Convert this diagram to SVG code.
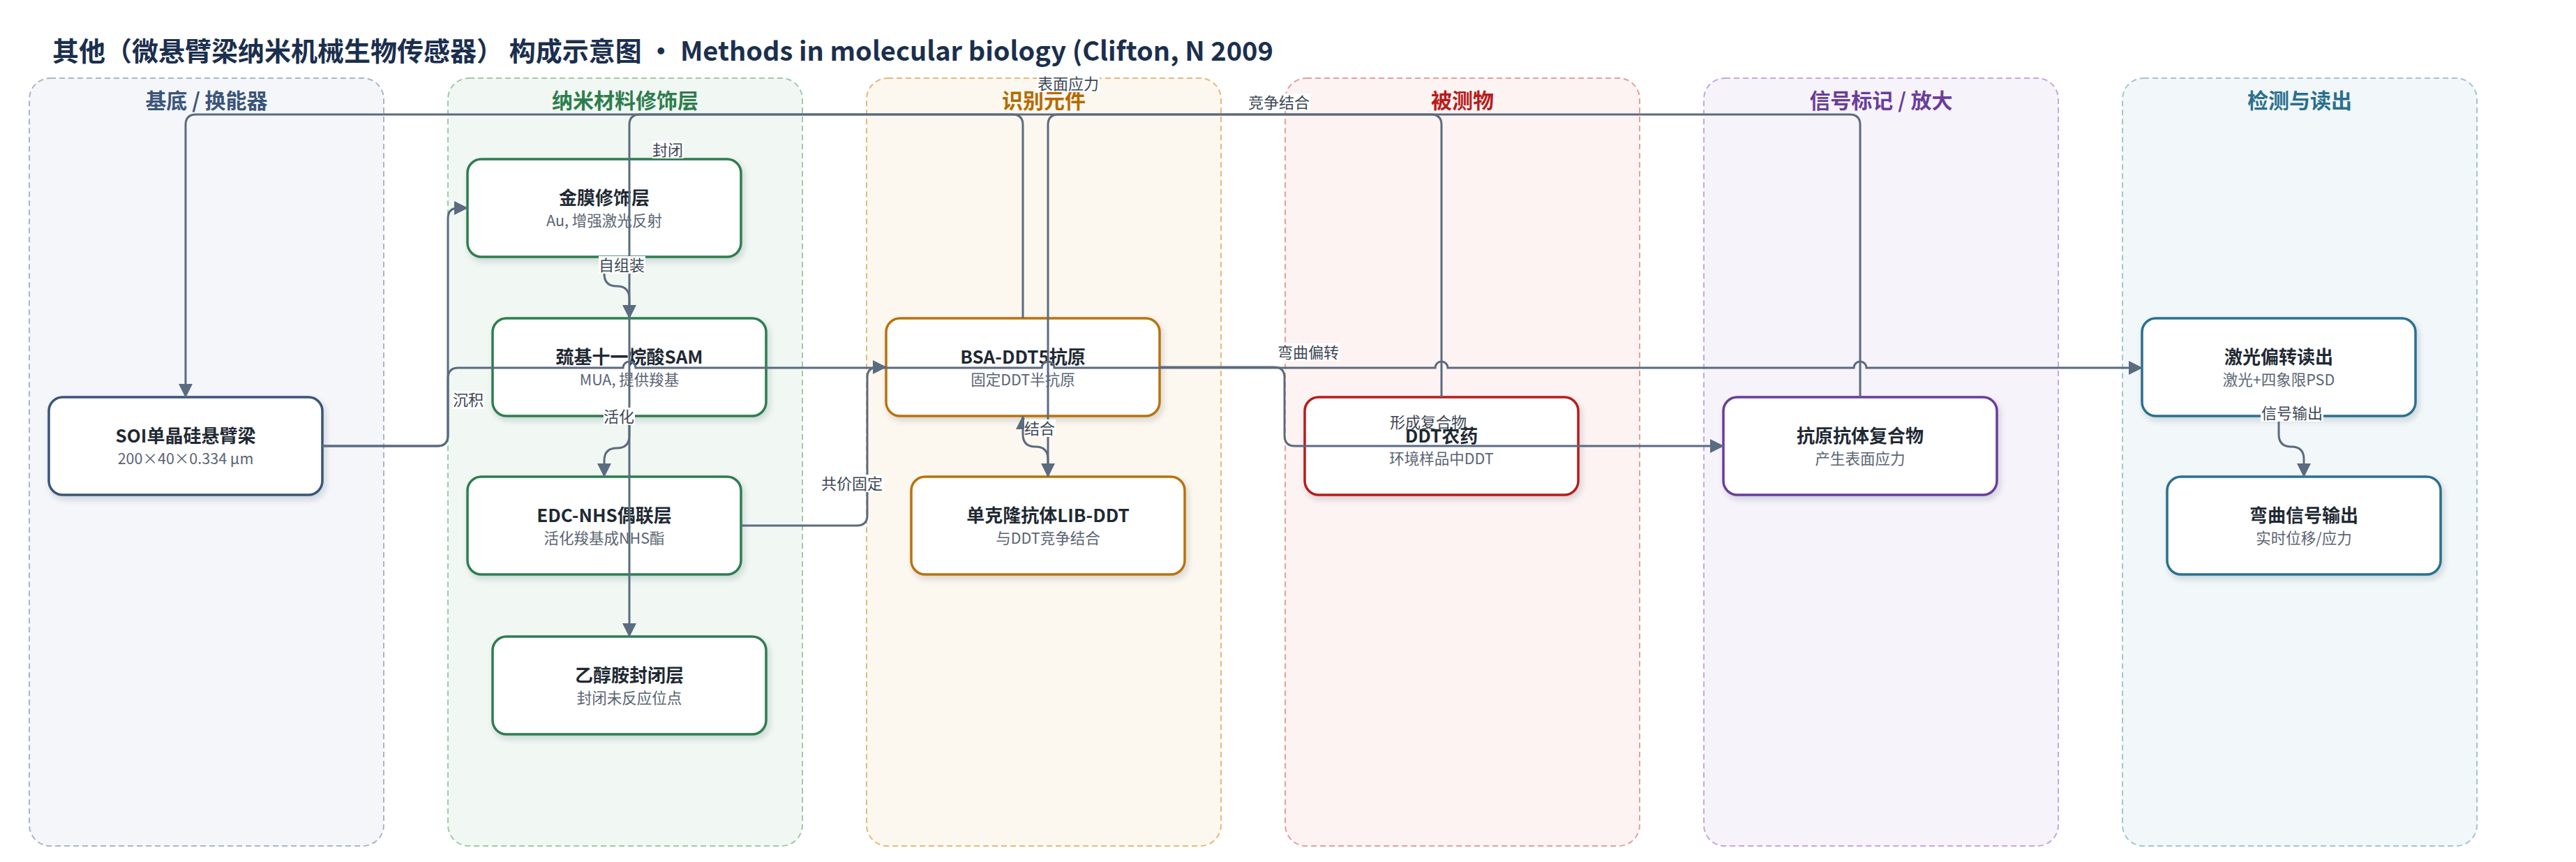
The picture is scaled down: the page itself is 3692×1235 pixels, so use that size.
<svg xmlns="http://www.w3.org/2000/svg" width="3692" height="1235" viewBox="0 0 3692 1235">
<defs>
<filter id="sh" x="-10%" y="-10%" width="130%" height="140%">
<feDropShadow dx="3" dy="5" stdDeviation="4" flood-color="#1b2a3a" flood-opacity="0.16"/>
</filter>
<marker id="arr" markerUnits="userSpaceOnUse" markerWidth="20" markerHeight="20" viewBox="0 0 20 20" refX="19" refY="10" orient="auto">
<path d="M0,0 L20,10 L0,20 z" fill="#5b6b80"/>
</marker>
</defs>
<style>
text{font-family:"Noto Sans CJK SC","Noto Sans",sans-serif}
.lane{stroke-width:2;stroke-dasharray:8 5}
.lt{font-size:30px;font-weight:700;text-anchor:middle}
.node{fill:#fff;stroke-width:3.5;filter:url(#sh)}
.nt{font-size:26px;font-weight:700;fill:#1f2933;text-anchor:middle}
.ns{font-size:21.5px;fill:#5a6472;text-anchor:middle}
.e{fill:none;stroke:#5b6b80;stroke-width:3}
.lb{font-size:22px;fill:#3d4654;text-anchor:middle}
.lbg{fill:#fff}
</style>
<rect width="3692" height="1235" fill="#ffffff"/>
<g id="lanes">
<rect class="lane" x="42" y="112" width="508" height="1100" rx="30" fill="#f4f6fa" stroke="#a9b6c8"/>
<rect class="lane" x="642" y="112" width="508" height="1100" rx="30" fill="#f1f8f3" stroke="#9fcaa9"/>
<rect class="lane" x="1242" y="112" width="508" height="1100" rx="30" fill="#fdf8ef" stroke="#e3b97a"/>
<rect class="lane" x="1842" y="112" width="508" height="1100" rx="30" fill="#fdf3f2" stroke="#e3a09c"/>
<rect class="lane" x="2442" y="112" width="508" height="1100" rx="30" fill="#f6f3fb" stroke="#c2a8e0"/>
<rect class="lane" x="3042" y="112" width="508" height="1100" rx="30" fill="#f2f7f9" stroke="#a3c4d2"/>
<text class="lt" x="296" y="155" fill="#3b5578">基底 / 换能器</text>
<text class="lt" x="896" y="155" fill="#2e7d4f">纳米材料修饰层</text>
<text class="lt" x="1496" y="155" fill="#b36b00">识别元件</text>
<text class="lt" x="2096" y="155" fill="#b71c1c">被测物</text>
<text class="lt" x="2696" y="155" fill="#6a3d9a">信号标记 / 放大</text>
<text class="lt" x="3296" y="155" fill="#2a6f8f">检测与读出</text>
</g>
<text x="75" y="87" font-size="38" font-weight="700" fill="#1b2f4e">其他（微悬臂梁纳米机械生物传感器） 构成示意图 · Methods in molecular biology (Clifton, N 2009</text>
<g id="n_soi"><rect class="node" x="70" y="569" width="392" height="140" rx="20" stroke="#3b5578"/><text class="nt" x="266" y="634">SOI单晶硅悬臂梁</text><text class="ns" x="266" y="665">200×40×0.334 µm</text></g>
<g id="n_au"><rect class="node" x="670" y="228" width="392" height="140" rx="20" stroke="#2e7d4f"/><text class="nt" x="866" y="293">金膜修饰层</text><text class="ns" x="866" y="324">Au, 增强激光反射</text></g>
<g id="n_sam"><rect class="node" x="706" y="456" width="392" height="140" rx="20" stroke="#2e7d4f"/><text class="nt" x="902" y="521">巯基十一烷酸SAM</text><text class="ns" x="902" y="552">MUA, 提供羧基</text></g>
<g id="n_edc"><rect class="node" x="670" y="683" width="392" height="140" rx="20" stroke="#2e7d4f"/><text class="nt" x="866" y="748">EDC-NHS偶联层</text><text class="ns" x="866" y="779">活化羧基成NHS酯</text></g>
<g id="n_eth"><rect class="node" x="706" y="912" width="392" height="140" rx="20" stroke="#2e7d4f"/><text class="nt" x="902" y="977">乙醇胺封闭层</text><text class="ns" x="902" y="1008">封闭未反应位点</text></g>
<g id="n_bsa"><rect class="node" x="1270" y="456" width="392" height="140" rx="20" stroke="#b8730a"/><text class="nt" x="1466" y="521">BSA-DDT5抗原</text><text class="ns" x="1466" y="552">固定DDT半抗原</text></g>
<g id="n_mab"><rect class="node" x="1306" y="683" width="392" height="140" rx="20" stroke="#b8730a"/><text class="nt" x="1502" y="748">单克隆抗体LIB-DDT</text><text class="ns" x="1502" y="779">与DDT竞争结合</text></g>
<g id="n_ddt"><rect class="node" x="1870" y="569" width="392" height="140" rx="20" stroke="#b71c1c"/><text class="nt" x="2066" y="634">DDT农药</text><text class="ns" x="2066" y="665">环境样品中DDT</text></g>
<g id="n_cplx"><rect class="node" x="2470" y="569" width="392" height="140" rx="20" stroke="#6a3d9a"/><text class="nt" x="2666" y="634">抗原抗体复合物</text><text class="ns" x="2666" y="665">产生表面应力</text></g>
<g id="n_laser"><rect class="node" x="3070" y="456" width="392" height="140" rx="20" stroke="#2a6f8f"/><text class="nt" x="3266" y="521">激光偏转读出</text><text class="ns" x="3266" y="552">激光+四象限PSD</text></g>
<g id="n_out"><rect class="node" x="3106" y="683" width="392" height="140" rx="20" stroke="#2a6f8f"/><text class="nt" x="3302" y="748">弯曲信号输出</text><text class="ns" x="3302" y="779">实时位移/应力</text></g>
<g id="connectors">
<path class="e" marker-end="url(#arr)" d="M462,639 H627 Q642,639 642,624 V313 Q642,298 657,298 H670"/>
<path class="e" marker-end="url(#arr)" d="M462,639 H627 Q642,639 642,624 V542 Q642,527 657,527 H893 A9,9 0 0 1 911,527 H1493 A9,9 0 0 1 1511,527 H2057 A9,9 0 0 1 2075,527 H2657 A9,9 0 0 1 2675,527 H3070"/>
<path class="e" marker-end="url(#arr)" d="M1062,753 H1228 Q1243,753 1243,738 V541 Q1243,526 1258,526 H1270"/>
<path class="e" marker-end="url(#arr)" d="M1662,526 H1826 Q1841,526 1841,541 V624 Q1841,639 1856,639 H2470"/>
<path class="e" marker-end="url(#arr)" d="M866,368 V392 Q866,410 884,410 Q902,410 902,428 V456"/>
<path class="e" marker-end="url(#arr)" d="M902,596 V624 Q902,642 884,642 Q866,642 866,660 V683"/>
<path class="e" marker-end="url(#arr)" d="M1502,683 V658 Q1502,640 1484,640 Q1466,640 1466,622 V596"/>
<path class="e" marker-end="url(#arr)" d="M2066,569 V179 Q2066,164 2051,164 H1517 Q1502,164 1502,179 V683"/>
<path class="e" marker-end="url(#arr)" d="M2666,569 V179 Q2666,164 2651,164 H281 Q266,164 266,179 V569"/>
<path class="e" marker-end="url(#arr)" d="M1466,456 V179 Q1466,164 1451,164 H917 Q902,164 902,179 V912"/>
<path class="e" marker-end="url(#arr)" d="M3266,596 V622 Q3266,640 3284,640 Q3302,640 3302,658 V683"/>
</g>
<g id="labels">
<rect class="lbg" x="649" y="561" width="45" height="25"/><text class="lb" x="671" y="581">沉积</text>
<rect class="lbg" x="858" y="367" width="67" height="25"/><text class="lb" x="891" y="388">自组装</text>
<rect class="lbg" x="865" y="584" width="45" height="25"/><text class="lb" x="887" y="605">活化</text>
<rect class="lbg" x="1176" y="680" width="90" height="25"/><text class="lb" x="1221" y="701">共价固定</text>
<rect class="lbg" x="1468" y="601" width="45" height="25"/><text class="lb" x="1490" y="622">结合</text>
<rect class="lbg" x="1788" y="134" width="90" height="25"/><text class="lb" x="1833" y="155">竞争结合</text>
<text class="lb" x="2047" y="613">形成复合物</text>
<rect class="lbg" x="1486" y="107" width="90" height="25"/><text class="lb" x="1531" y="128">表面应力</text>
<rect class="lbg" x="1830" y="492" width="90" height="25"/><text class="lb" x="1875" y="513">弯曲偏转</text>
<rect class="lbg" x="3240" y="579" width="90" height="25"/><text class="lb" x="3285" y="600">信号输出</text>
<rect class="lbg" x="935" y="202" width="45" height="25"/><text class="lb" x="957" y="223">封闭</text>
</g>
</svg>
